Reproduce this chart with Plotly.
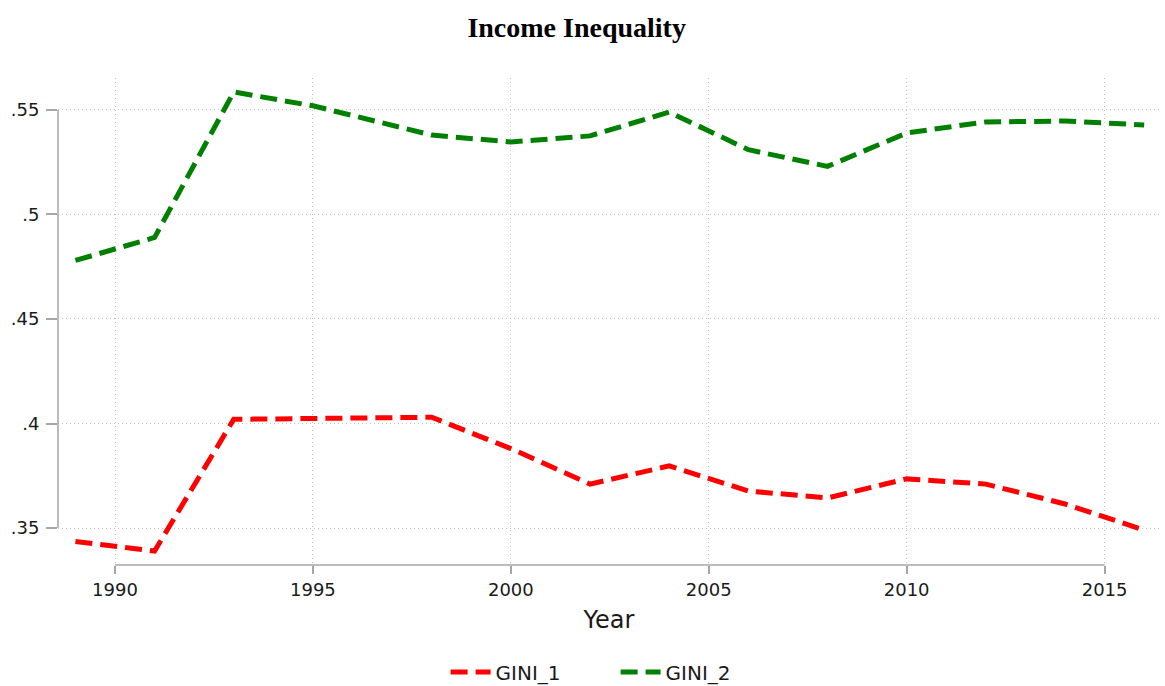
import plotly.graph_objects as go

# ---- data ----
years = [1989, 1991, 1993, 1995, 1998, 2000, 2002, 2004, 2006, 2008, 2010, 2012, 2014, 2016]
gini_1 = [0.3435, 0.339, 0.402, 0.4025, 0.403, 0.388, 0.371, 0.3797, 0.3677, 0.3644, 0.3735, 0.371, 0.3615, 0.349]
gini_2 = [0.478, 0.489, 0.5586, 0.552, 0.538, 0.5347, 0.5376, 0.549, 0.531, 0.523, 0.539, 0.5443, 0.5447, 0.5428]

x_ticks = [1990, 1995, 2000, 2005, 2010, 2015]
y_ticks = [0.35, 0.40, 0.45, 0.50, 0.55]
y_tick_labels = [".35", ".4", ".45", ".5", ".55"]

x_range = [1988.56, 2016.4]
y_range = [0.3323, 0.5653]

SANS = "DejaVu Sans"
AXIS_GRAY = "#a6a6a6"
GRID_GRAY = "#c4c4c4"

fig = go.Figure()
fig.add_trace(go.Scatter(x=years, y=gini_1, mode="lines", name="GINI_1",
                         line=dict(color="#ff0000", width=5, dash="17px,8px")))
fig.add_trace(go.Scatter(x=years, y=gini_2, mode="lines", name="GINI_2",
                         line=dict(color="#008000", width=5, dash="17px,8px")))

# Stata-style axis lines spanning only the tick range (paper coords computed from tick arrays)
def xp(v):
    return (v - x_range[0]) / (x_range[1] - x_range[0])

def yp(v):
    return (v - y_range[0]) / (y_range[1] - y_range[0])

fig.add_shape(type="line", xref="paper", yref="paper",
              x0=xp(x_ticks[0]), x1=xp(x_ticks[-1]), y0=0, y1=0,
              line=dict(color=AXIS_GRAY, width=1.5))
fig.add_shape(type="line", xref="paper", yref="paper",
              x0=0, x1=0, y0=yp(y_ticks[0]), y1=yp(y_ticks[-1]),
              line=dict(color=AXIS_GRAY, width=1.5))

fig.update_layout(
    width=1165, height=686,
    paper_bgcolor="white", plot_bgcolor="white",
    margin=dict(l=58, r=5, t=78, b=121),
    title=dict(text="<b>Income Inequality</b>", xref="container", x=0.495, xanchor="center",
               y=1 - 27 / 686, yanchor="middle",
               font=dict(family="Liberation Serif", size=28, color="black")),
    font=dict(family=SANS, color="#1a1a1a"),
    xaxis=dict(range=x_range, tickmode="array", tickvals=x_ticks, automargin=False,
               ticks="outside", ticklen=8, tickcolor=AXIS_GRAY, tickwidth=1.5,
               showline=False, zeroline=False,
               showgrid=True, gridcolor=GRID_GRAY, griddash="1px,3px", gridwidth=1,
               ticklabelstandoff=0,
               tickfont=dict(size=18, family=SANS, color="#1a1a1a"),
               title=dict(text="Year", font=dict(size=24, family=SANS, color="#1a1a1a"), standoff=12)),
    yaxis=dict(range=y_range, tickmode="array", tickvals=y_ticks, ticktext=y_tick_labels,
               automargin=False,
               ticks="outside", ticklen=11, tickcolor=AXIS_GRAY, tickwidth=1.5,
               showline=False, zeroline=False,
               showgrid=True, gridcolor=GRID_GRAY, griddash="1px,3px", gridwidth=1,
               ticklabelstandoff=3,
               tickfont=dict(size=18, family=SANS, color="#1a1a1a")),
    legend=dict(orientation="h", xref="paper", x=0.506, xanchor="center",
                yref="container", y=1 - 672 / 686, yanchor="middle",
                font=dict(size=20, family=SANS, color="#1a1a1a"),
                entrywidth=115, itemwidth=40),
    showlegend=True,
)

fig.write_html("out.html", config={"displayModeBar": False},
               post_script="document.body.style.margin='0';")
